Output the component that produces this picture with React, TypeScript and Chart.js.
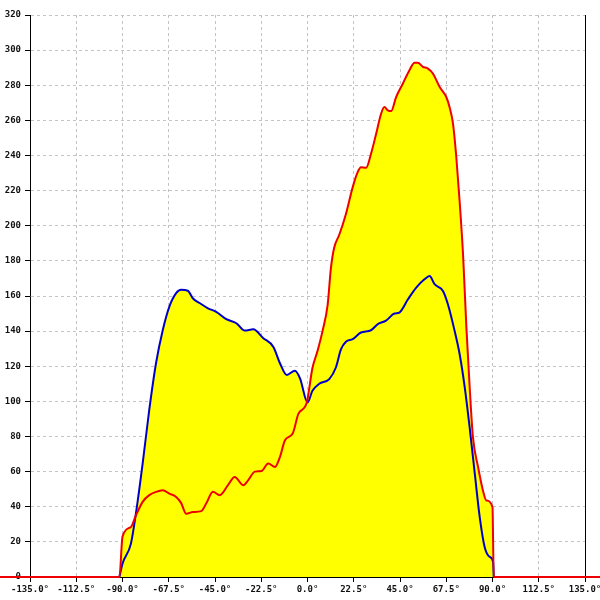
import React, { useEffect, useRef } from "react";
import { Chart, registerables } from "chart.js";

Chart.register(...registerables);

// Angle ticks (degrees)
const xTickMin = -135;
const xTickMax = 135;
const xTickStep = 22.5;
const yTickMin = 0;
const yTickMax = 320;
const yTickStep = 20;

// Red series
const redX = [-150, -91.5, -90, -85.9, -83.5, -80.2, -77, -73.7, -70.4, -67.2, -63.9, -61.5, -59, -55.8, -51.7, -49.3, -46, -42.7, -38.7, -35.4, -31.3, -28.9, -25.6, -22.4, -19.1, -15.8, -13.4, -10.9, -7.2, -4.4, -0.4, 2.4, 4.9, 7.3, 9.8, 11.4, 13, 15.5, 18.7, 22, 24.4, 26, 28.5, 30.9, 33.4, 35.8, 37.4, 39.1, 40.7, 43.1, 46.4, 49.6, 52.1, 53.7, 56.1, 58.6, 61, 64.3, 67.5, 69.1, 70.8, 72.4, 74, 75.7, 77.3, 78.9, 80.5, 83, 85.4, 87, 90, 90.6, 150];
const redY = [0, 0, 23, 28.5, 35, 42.8, 46.6, 48.5, 49.4, 47.5, 45.6, 42.2, 36, 37, 37.5, 41.8, 48.5, 46.6, 52.3, 57, 52.3, 55, 60, 60.3, 64.6, 62.7, 68.4, 78, 81.7, 93, 99.2, 119, 128.8, 140, 155, 176, 187.6, 195, 206.7, 222, 230.5, 233.3, 233, 241, 252.4, 263.8, 267.6, 265.7, 265.3, 273.3, 281, 288.6, 292.8, 292.8, 290.5, 289.5, 286.7, 279, 273.3, 267.6, 258, 239, 214, 183, 142, 108, 79.5, 62.5, 49, 43.6, 39.8, 0, 0];

// Blue series
const blueX = [-91.5, -90, -85.9, -83.5, -80.2, -77, -73.7, -70.4, -67.2, -63.9, -61.5, -58.2, -55.8, -52.5, -48.4, -44.4, -39.5, -34.6, -30.5, -26.4, -21.5, -16.6, -13.4, -10.1, -6.1, -3.6, 0, 2.4, 5.7, 10.6, 13.8, 16.3, 18.7, 22, 26, 30.9, 34.2, 38.2, 42.3, 44.7, 48.8, 52.9, 56.9, 59.4, 61.8, 65.9, 68.3, 71.6, 74, 76.5, 78.9, 81.4, 83.8, 86.2, 88.7, 90.3, 90.6];
const blueY = [0, 7.6, 19, 36, 64.6, 95, 121.7, 140.7, 154, 161.6, 163.5, 163, 158.7, 156, 153, 151, 146.8, 144.5, 140.3, 141, 136, 131, 121.7, 115, 117.5, 113, 99.4, 106, 110, 112.7, 119.3, 129.7, 134, 135.4, 139.2, 140.5, 144, 146, 150, 150.6, 158, 164.8, 169.5, 171.4, 166.7, 162.9, 155.3, 140, 127, 108, 85, 58.7, 34, 17, 11.4, 8.5, 0];

const FONT = { family: "'DejaVu Sans Mono', monospace", size: 9, weight: "bold" as const };
const GRID_COLOR = "#c4c4c4";

export default function App() {
  const ref = useRef<HTMLCanvasElement | null>(null);

  useEffect(() => {
    if (!ref.current) return;
    const toPts = (xs: number[], ys: number[]) => xs.map((x, i) => ({ x, y: ys[i] }));
    const chart = new Chart(ref.current, {
      type: "line",
      data: {
        datasets: [
          {
            data: toPts(redX, redY),
            borderColor: "#ee0000",
            borderWidth: 2,
            backgroundColor: "#ffff00",
            fill: "origin",
            pointRadius: 0,
            cubicInterpolationMode: "monotone",
            clip: false as any,
          },
          {
            data: toPts(blueX, blueY),
            borderColor: "#0000c8",
            borderWidth: 2,
            backgroundColor: "#ffff00",
            fill: "origin",
            pointRadius: 0,
            cubicInterpolationMode: "monotone",
          },
        ],
      },
      options: {
        animation: false,
        responsive: false,
        devicePixelRatio: 1,
        layout: { padding: { top: 15, right: 15, left: 0, bottom: 0 } },
        plugins: {
          legend: { display: false },
          tooltip: { enabled: false },
          filler: { drawTime: "beforeDatasetsDraw" } as any,
        },
        scales: {
          x: {
            type: "linear",
            min: xTickMin,
            max: xTickMax,
            ticks: {
              stepSize: xTickStep,
              autoSkip: false,
              maxRotation: 0,
              padding: 2,
              color: "#111",
              font: FONT,
              callback: (v: any) => Number(v).toFixed(1) + "°",
            },
            grid: {
              color: GRID_COLOR,
              tickColor: "#000",
              tickLength: 5,
              tickWidth: 1,
            },
            border: { color: "#000", dash: [3, 3] },
            afterFit: (s: any) => {
              s.height = 23;
              s.paddingLeft = 0;
              s.paddingRight = 0;
            },
          },
          y: {
            min: yTickMin,
            max: yTickMax,
            ticks: {
              stepSize: yTickStep,
              padding: 4,
              color: "#111",
              font: FONT,
            },
            grid: {
              color: GRID_COLOR,
              tickColor: "#000",
              tickLength: 5,
              tickWidth: 1,
            },
            border: { color: "#000", dash: [3, 3] },
            afterFit: (s: any) => {
              s.width = 30;
              s.paddingTop = 0;
              s.paddingBottom = 0;
            },
          },
          y2: {
            position: "right",
            min: yTickMin,
            max: yTickMax,
            ticks: { display: false },
            grid: { drawOnChartArea: false, drawTicks: false },
            border: { color: "#000" },
            afterFit: (s: any) => {
              s.width = 0;
            },
          },
        },
      },
    });
    return () => chart.destroy();
  }, []);

  return (
    <div style={{ position: "fixed", left: 0, top: 0, width: 600, height: 600, background: "#fff" }}>
      <canvas ref={ref} width={600} height={600} style={{ display: "block", width: 600, height: 600 }} />
    </div>
  );
}
